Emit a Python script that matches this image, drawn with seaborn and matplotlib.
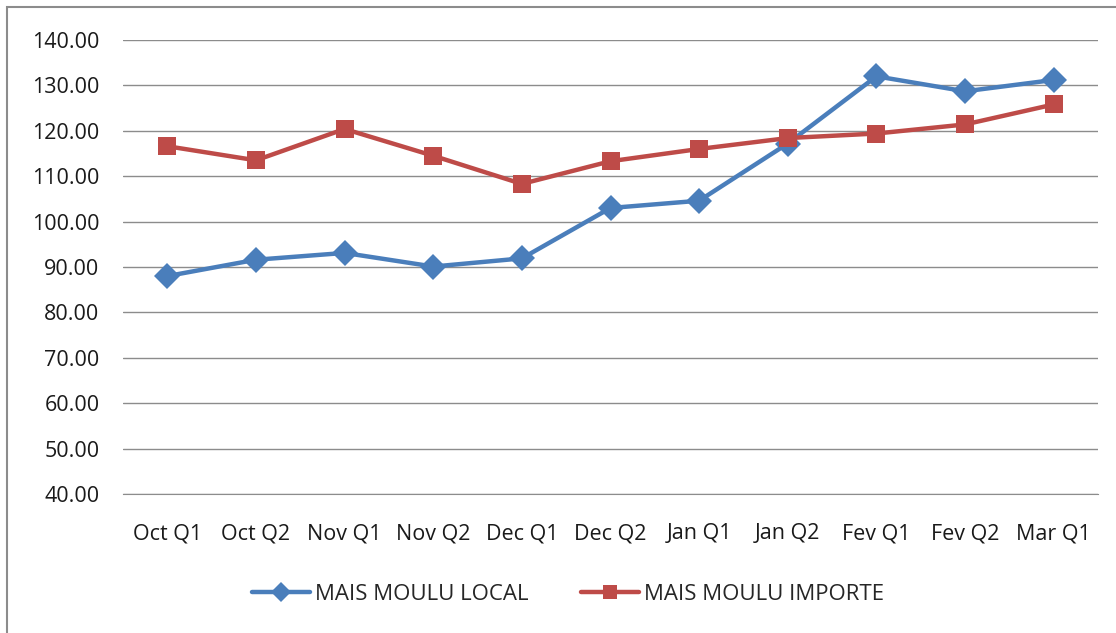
import matplotlib
matplotlib.use("Agg")
import matplotlib.pyplot as plt
import pandas as pd
import seaborn as sns
from matplotlib.patches import Rectangle

# data
periods = ["Oct Q1", "Oct Q2", "Nov Q1", "Nov Q2", "Dec Q1", "Dec Q2",
           "Jan Q1", "Jan Q2", "Fev Q1", "Fev Q2", "Mar Q1"]
local = [88.0, 91.6, 93.1, 90.1, 91.9, 103.0, 104.6, 117.2, 132.0, 128.7, 131.2]
importe = [116.6, 113.5, 120.4, 114.5, 108.3, 113.3, 116.0, 118.4, 119.4, 121.4, 125.8]
series_names = ["MAIS MOULU LOCAL", "MAIS MOULU IMPORTE"]

df = pd.DataFrame({"period": periods * 2,
                   "price": local + importe,
                   "serie": [series_names[0]] * len(periods) + [series_names[1]] * len(periods)})

sns.set_style("white")
plt.rcParams['font.family'] = ['Open Sans', 'DejaVu Sans']

fig = plt.figure(figsize=(11.16, 6.33), dpi=100)
ax = fig.add_axes([123 / 1116, 1 - 494 / 633, (1098 - 123) / 1116, (494 - 40) / 633])

# outer frame of the chart
fig.patches.append(Rectangle((7 / 1116, -0.1), 1.2, 1 - 7 / 633 + 0.1, transform=fig.transFigure,
                             fill=False, edgecolor="#8c8c8c", linewidth=1.5))

colors = {series_names[0]: "#4A7EBB", series_names[1]: "#BE4B48"}
sns.lineplot(data=df, x="period", y="price", hue="serie", style="serie",
             markers={series_names[0]: "D", series_names[1]: "s"}, dashes=False,
             palette=colors, linewidth=3.2, markersize=13, markeredgewidth=0,
             sort=False, ax=ax)

ax.set_ylim(40, 140)
ax.set_yticks(range(40, 141, 10))
ax.set_yticklabels([f"{v:.2f}" for v in range(40, 141, 10)])
ax.set_xlim(-0.5, len(periods) - 0.5)
ax.yaxis.grid(True, color="#8c8c8c", linewidth=1)
ax.set_xlabel("")
ax.set_ylabel("")
for s in ["top", "right", "left"]:
    ax.spines[s].set_visible(False)
ax.spines["bottom"].set_color("#8c8c8c")
ax.tick_params(axis="both", labelsize=15.5, length=0, colors="#1a1a1a")
ax.tick_params(axis="y", pad=17)
ax.tick_params(axis="x", pad=21)

handles, labels = ax.get_legend_handles_labels()
ax.legend(handles, labels, loc="center", bbox_to_anchor=(568 / 1116, 1 - 594 / 633),
          bbox_transform=fig.transFigure, ncol=2, frameon=False, fontsize=16,
          handlelength=2.6, columnspacing=2.4, handletextpad=0.2, markerscale=0.8)

fig.savefig("out.png", dpi=100)
